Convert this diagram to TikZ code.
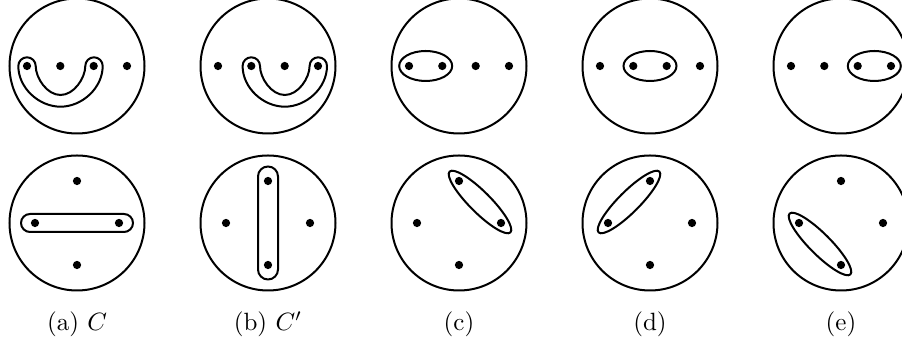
\documentclass[tikz,border=0pt]{standalone}
\usepackage{amsmath}
\usepackage{amssymb}
\usetikzlibrary{positioning}

\begin{document}
\begin{tikzpicture}[x=0.4pt,y=0.4pt,
        disk/.style={line width=0.8pt},
        sccurve/.style={line width=0.8pt},
        puncture/.style={fill=black},
        caption/.style={anchor=base,font=\normalsize},
        uband/.pic={
            \draw[sccurve] (-58.7,0) arc[start angle=180,end angle=0,radius=8.7]
                .. controls (-41.3,-12) and (-30,-29) .. (-16.5,-29)
                .. controls (-3,-29) and (8.3,-12) .. (8.3,0)
                arc[start angle=180,end angle=0,radius=8.7]
                .. controls (25.7,-22) and (5,-40.7) .. (-16.5,-40.7)
                .. controls (-38,-40.7) and (-58.7,-22) .. cycle;
        }]
        \useasboundingbox (0,0) rectangle (902,345);
        % top row: four punctures on a line
        \begin{scope}[shift={(77,279)}]
            \draw[disk] (0,0) circle[radius=67.5];
            \pic {uband};
            \foreach \p in {-50,-16.7,16.7,50} \fill[puncture] (\p,0) circle[radius=1.65pt];
        \end{scope}
        \begin{scope}[shift={(268,279)}]
            \draw[disk] (0,0) circle[radius=67.5];
            \pic at (33.3,0) {uband};
            \foreach \p in {-50,-16.7,16.7,50} \fill[puncture] (\p,0) circle[radius=1.65pt];
        \end{scope}
        \begin{scope}[shift={(459,279)}]
            \draw[disk] (0,0) circle[radius=67.5];
            \draw[sccurve] (-33.3,0) ellipse[x radius=26.5,y radius=15];
            \foreach \p in {-50,-16.7,16.7,50} \fill[puncture] (\p,0) circle[radius=1.65pt];
        \end{scope}
        \begin{scope}[shift={(650,279)}]
            \draw[disk] (0,0) circle[radius=67.5];
            \draw[sccurve] (0,0) ellipse[x radius=26.5,y radius=15];
            \foreach \p in {-50,-16.7,16.7,50} \fill[puncture] (\p,0) circle[radius=1.65pt];
        \end{scope}
        \begin{scope}[shift={(841,279)}]
            \draw[disk] (0,0) circle[radius=67.5];
            \draw[sccurve] (33.3,0) ellipse[x radius=26.5,y radius=15];
            \foreach \p in {-50,-16.7,16.7,50} \fill[puncture] (\p,0) circle[radius=1.65pt];
        \end{scope}
        % bottom row: four punctures on a cross
        \begin{scope}[shift={(77,122)}]
            \draw[disk] (0,0) circle[radius=67.5];
            \draw[sccurve,rounded corners=3.6pt] (-56,-9) rectangle (56,9);
            \foreach \p in {0,90,180,270} \fill[puncture] (\p:42) circle[radius=1.65pt];
        \end{scope}
        \begin{scope}[shift={(268,122)}]
            \draw[disk] (0,0) circle[radius=67.5];
            \draw[sccurve,rounded corners=4pt] (-10,-56.5) rectangle (10,56.5);
            \foreach \p in {0,90,180,270} \fill[puncture] (\p:42) circle[radius=1.65pt];
        \end{scope}
        \begin{scope}[shift={(459,122)}]
            \draw[disk] (0,0) circle[radius=67.5];
            \draw[sccurve,rotate around={-45:(21,21)}] (21,21) ellipse[x radius=43,y radius=10.5];
            \foreach \p in {0,90,180,270} \fill[puncture] (\p:42) circle[radius=1.65pt];
        \end{scope}
        \begin{scope}[shift={(650,122)}]
            \draw[disk] (0,0) circle[radius=67.5];
            \draw[sccurve,rotate around={45:(-21,21)}] (-21,21) ellipse[x radius=43,y radius=10.5];
            \foreach \p in {0,90,180,270} \fill[puncture] (\p:42) circle[radius=1.65pt];
        \end{scope}
        \begin{scope}[shift={(841,122)}]
            \draw[disk] (0,0) circle[radius=67.5];
            \draw[sccurve,rotate around={-45:(-21,-21)}] (-21,-21) ellipse[x radius=43,y radius=10.5];
            \foreach \p in {0,90,180,270} \fill[puncture] (\p:42) circle[radius=1.65pt];
        \end{scope}
        % captions
        \node[caption] (capa) at (77,14) {(a) $C$};
        \node[caption] (capb) at (268,14) {(b) $C'$};
        \node[caption] (capc) at (459,14) {(c)};
        \node[caption] (capd) at (650,14) {(d)};
        \node[caption] (cape) at (841,14) {(e)};
    \end{tikzpicture}
\end{document}
